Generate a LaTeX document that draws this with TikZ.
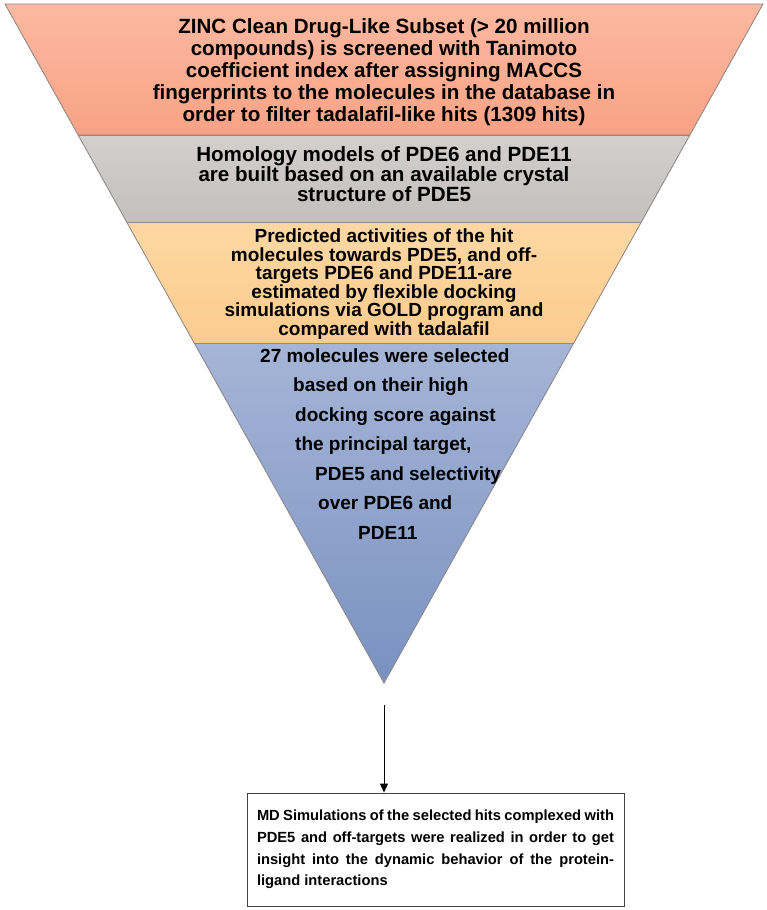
\documentclass[tikz,border=0pt]{standalone}
\usepackage{fontspec}
\setmainfont{Liberation Sans}
\usetikzlibrary{calc,arrows.meta}
\definecolor{zinctop}{HTML}{FBB9A1}
\definecolor{zincbot}{HTML}{F9A285}
\definecolor{homtop}{HTML}{D3CFCF}
\definecolor{hombot}{HTML}{C3BFBF}
\definecolor{docktop}{HTML}{FDD7A2}
\definecolor{dockbot}{HTML}{FCCC8E}
\definecolor{seltop}{HTML}{A5B5D7}
\definecolor{selbot}{HTML}{7A91C0}
\definecolor{bandedge}{HTML}{8E8A8A}
\tikzset{
  band/.style={draw=bandedge, line width=0.8pt},
  bandtext/.style={align=center, inner sep=0pt, text=black},
  mdbox/.style={draw=black!75, line width=0.9pt, text width=357pt, align=justify,
    minimum width=377pt, minimum height=113pt, inner xsep=10pt, inner ysep=0pt,
    font=\bfseries\fontsize{14.7}{21.7}\selectfont}
}
\begin{document}
\begin{tikzpicture}[x=1pt,y=-1pt]
\useasboundingbox (0,0) rectangle (767,910);
\coordinate (tl) at (5,4);
\coordinate (tr) at (763,4);
\coordinate (apex) at (384,683);
\coordinate (l1) at ($(tl)!0.1929!(apex)$);
\coordinate (r1) at ($(tr)!0.1929!(apex)$);
\coordinate (l2) at ($(tl)!0.3211!(apex)$);
\coordinate (r2) at ($(tr)!0.3211!(apex)$);
\coordinate (l3) at ($(tl)!0.4993!(apex)$);
\coordinate (r3) at ($(tr)!0.4993!(apex)$);
\fill[top color=zinctop, bottom color=zincbot] (tl) -- (tr) -- (r1) -- (l1) -- cycle;
\fill[top color=homtop, bottom color=hombot] (l1) -- (r1) -- (r2) -- (l2) -- cycle;
\fill[top color=docktop, bottom color=dockbot] (l2) -- (r2) -- (r3) -- (l3) -- cycle;
\fill[top color=seltop, bottom color=selbot] (l3) -- (r3) -- (apex) -- cycle;
\draw[band] (tl) -- (tr) -- (apex) -- cycle;
\draw[band] (l1) -- (r1);
\draw[band] (l2) -- (r2);
\draw[band] (l3) -- (r3);

\node[bandtext, font=\bfseries\fontsize{20.6}{22}\selectfont] (zinc) at (384,72)
  {ZINC Clean Drug-Like Subset (> 20 million\\compounds) is screened with Tanimoto\\coefficient index after assigning MACCS\\fingerprints to the molecules in the database in\\order to filter tadalafil-like hits (1309 hits)};
\node[bandtext, font=\bfseries\fontsize{20.6}{20}\selectfont] (homology) at (384,174)
  {Homology models of PDE6 and PDE11\\are built based on an available crystal\\structure of PDE5};
\node[bandtext, font=\bfseries\fontsize{19}{18.6}\selectfont] (docking) at (384,284)
  {Predicted activities of the hit\\molecules towards PDE5, and off-\\targets PDE6 and PDE11-are\\estimated by flexible docking\\simulations via GOLD program and\\compared with tadalafil};
\node[bandtext, align=left, anchor=west, font=\bfseries\fontsize{19}{29.5}\selectfont] (selected) at (260,444)
  {27 molecules were selected\\
   \hspace*{33pt}based on their high\\
   \hspace*{35pt}docking score against\\
   \hspace*{35pt}the principal target,\\
   \hspace*{55pt}PDE5 and selectivity\\
   \hspace*{58pt}over PDE6 and\\
   \hspace*{98pt}PDE11};

\node[mdbox] (md) at (435.5,849.5)
  {MD Simulations of the selected hits complexed with\linebreak
   PDE5 and off-targets were realized in order to get\linebreak
   insight into the dynamic behavior of the protein-\linebreak{}ligand interactions\par\vspace*{16pt}};
\coordinate (arrowstart) at (384,705);
\draw[line width=0.9pt, -{Triangle[length=9pt,width=8pt]}] (arrowstart) -- (arrowstart |- md.north);
\end{tikzpicture}
\end{document}
